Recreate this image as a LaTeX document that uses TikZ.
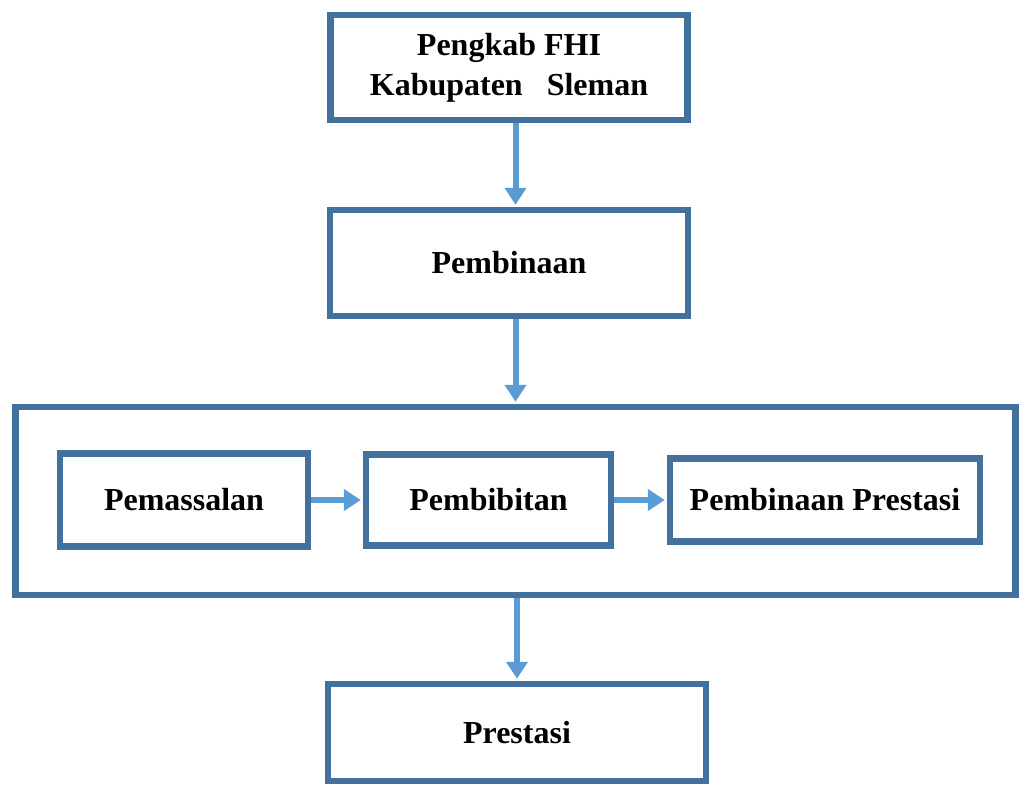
\documentclass[tikz,border=0pt]{standalone}
\usepackage{fontspec}
\setmainfont{Liberation Serif}
\usetikzlibrary{arrows.meta}
\definecolor{boxblue}{RGB}{65,113,156}
\definecolor{arrowblue}{RGB}{91,155,213}
\begin{document}
\begin{tikzpicture}[x=1pt,y=-1pt,
  box/.style={draw=boxblue,line width=6.5pt,fill=white,align=center,inner sep=0pt,
    font=\fontsize{32}{40}\selectfont\bfseries},
  flow/.style={arrowblue,line width=6pt,-{Triangle[width=21pt,length=17pt]},shorten >=2pt}]
\useasboundingbox (0,0) rectangle (1021,785);
\node(group) at (515.5,501)[box,minimum width=1000,minimum height=188] {};
\node(pengkab) at (509,67.5)[box,minimum width=357,minimum height=105] {Pengkab FHI\\Kabupaten\ \ \ Sleman};
\node(pembinaan) at (509,263)[box,minimum width=358,minimum height=106] {Pembinaan};
\node(pemassalan) at (184,500)[box,minimum width=248,minimum height=93] {Pemassalan};
\node(pembibitan) at (488.5,500)[box,minimum width=245,minimum height=91] {Pembibitan};
\node(prestasiPB) at (825,500)[box,minimum width=310,minimum height=83] {Pembinaan Prestasi};
\node(prestasi) at (517,732.5)[box,minimum width=378,minimum height=97] {Prestasi};
\draw[flow] (pengkab.south -| group.north) -- (pembinaan.north -| group.north);
\draw[flow] (pembinaan.south -| group.north) -- (group.north);
\draw[flow] (pemassalan.east) -- (pembibitan.west);
\draw[flow] (pembibitan.east) -- (prestasiPB.west);
\draw[flow] (group.south -| prestasi.north) -- (prestasi.north);
\end{tikzpicture}
\end{document}
